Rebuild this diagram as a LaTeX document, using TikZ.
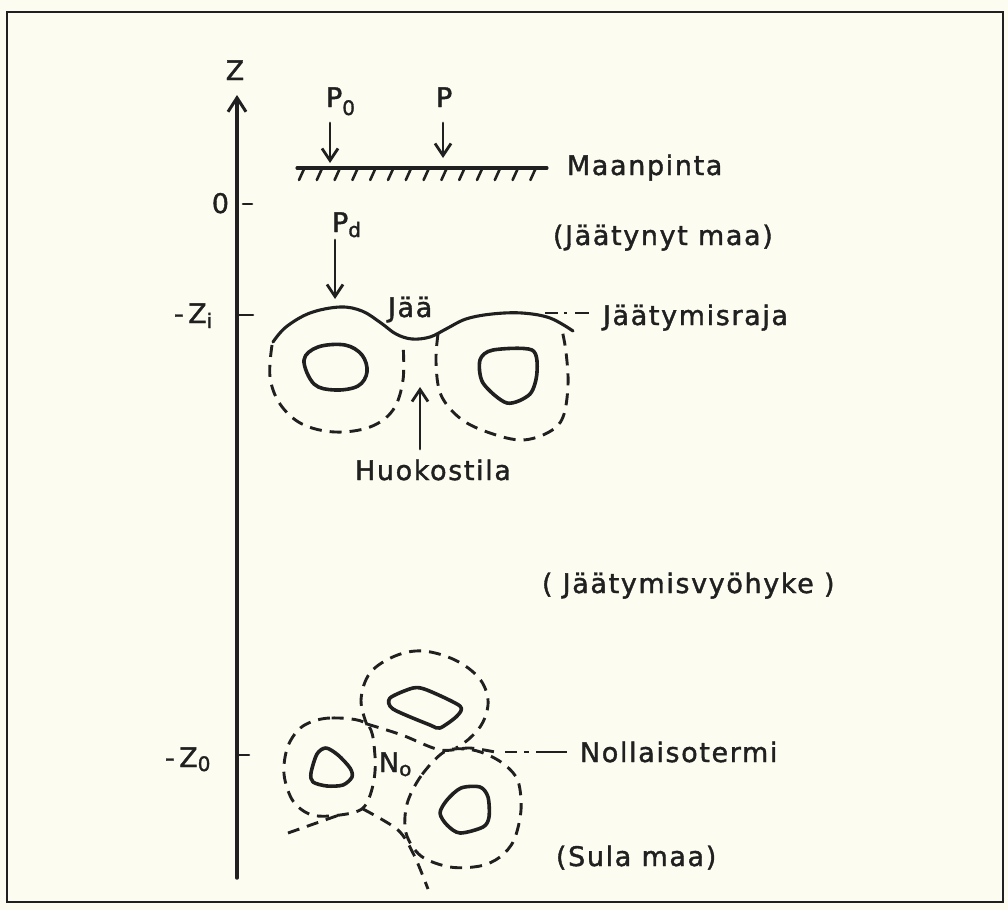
\documentclass[tikz,border=0pt]{standalone}
\usepackage{fontspec}
\setmainfont{DejaVu Sans}[LetterSpace=6, FakeBold=1.4]
\usetikzlibrary{arrows.meta}
\definecolor{paper}{RGB}{252,252,240}
\definecolor{ink}{RGB}{32,32,32}
\newcommand\lowsub[2][-7pt]{\raisebox{#1}{\fontsize{20}{20}\selectfont #2}}
\begin{document}
\begin{tikzpicture}[x=1pt,y=-1pt,
  every node/.style={inner sep=0pt, outer sep=0pt, text=ink, font=\fontsize{27}{30}\selectfont},
  lbl/.style={anchor=base west},
  inkline/.style={draw=ink, line width=3.1pt, line cap=round, line join=round},
  dashline/.style={inkline, line width=2.9pt, line cap=butt, dash pattern=on 12pt off 8pt},
  barb/.style={-{Straight Barb[length=12pt,width=16pt,line width=2.8pt]}},
]
% page and frame
\fill[paper] (0,0) rectangle (1008,910);
\useasboundingbox (0,0) rectangle (1008,910);
\draw[ink, line width=2.6pt] (7,12) rectangle (1003,902);

% depth axis
\coordinate (zbot) at (237,878);
\coordinate (ztop) at (237,95);
\draw[inkline, line width=3.4pt, -{Straight Barb[length=14pt,width=18pt,line width=3pt]}] (zbot) -- (ztop);
\node[anchor=base] (zlab) at (235,80) {Z};
\node[anchor=base east] (zero) at (229,213) {0};
\node[lbl] (zi) at (174,323) {-\,Z\lowsub[-5pt]{i}};
\node[lbl] (zo) at (165,767) {-\,Z\lowsub[-4pt]{0}};
\coordinate (t0a) at (243,204); \coordinate (t0b) at (252,204);
\coordinate (tia) at (239,315); \coordinate (tib) at (253,315);
\coordinate (toa) at (239,755); \coordinate (tob) at (249,755);
\draw[inkline, line width=2.6pt] (t0a) -- (t0b);
\draw[inkline, line width=2.6pt] (tia) -- (tib);
\draw[inkline, line width=2.6pt] (toa) -- (tob);

% ground surface with hatching
\coordinate (gl) at (297,168);
\coordinate (gr) at (547,168);
\draw[inkline] (gl) -- (gr);
\foreach \i in {0,...,13}
  \draw[inkline, line width=2.6pt] ({304+17.8*\i},169) -- ({299+17.8*\i},180);
\node[lbl] (maan) at (567,175) {Maanpinta};

% loads
\node[lbl] (p0) at (326,107) {P\lowsub[-8pt]{0}};
\node[lbl] (p) at (436,107) {P};
\node[lbl] (pd) at (332,232) {P\lowsub[-5pt]{d}};
\coordinate (p0a) at (330,123); \coordinate (p0b) at (330,163);
\coordinate (pa) at (443,123);  \coordinate (pb) at (443,158);
\coordinate (pda) at (335,240); \coordinate (pdb) at (335,299);
\draw[inkline, line width=2.8pt, barb] (p0a) -- (p0b);
\draw[inkline, line width=2.8pt, barb] (pa) -- (pb);
\draw[inkline, line width=2.8pt, barb] (pda) -- (pdb);

\node[lbl] (frozen) at (553,245) {(Jäätynyt maa)};

% freezing front with ice lens
\draw[inkline] plot[smooth, tension=0.6] coordinates {(273,342) (286,327) (310,313) (340,307) (362,311) (381,323) (396,334) (412,339) (430,337) (446,329) (466,319) (492,314) (522,313) (550,318) (573,331)};
\node[lbl] (ice) at (388,317) {Jää};
\coordinate (fra) at (545,313);
\coordinate (frb) at (598,313);
\draw[inkline, line width=2.6pt, line cap=butt, dash pattern=on 13pt off 6pt on 3pt off 8pt on 14pt] (fra) -- (frb);
\node[lbl] (front) at (603,325) {Jäätymisraja};

% soil grains below the front
\draw[inkline, line width=3.6pt] plot[smooth cycle, tension=0.6] coordinates {(304,360) (318,347) (345,345) (362,355) (367,372) (358,386) (335,390) (314,384)};
\draw[inkline, line width=3.6pt] plot[smooth cycle, tension=0.5] coordinates {(480,360) (493,350) (532,350) (537,372) (530,394) (507,403) (483,383)};
\draw[dashline] plot[smooth, tension=0.6] coordinates {(272,345) (270,377) (280,404) (302,424) (335,432) (370,427) (393,410) (403,380) (403,343)};
\draw[dashline] plot[smooth, tension=0.6] coordinates {(438,334) (436,362) (441,395) (461,419) (490,433) (522,440) (549,432) (563,417) (568,385) (566,352) (562,330)};

% pore space
\coordinate (poretip) at (420,387);
\node[lbl] (pore) at (355,480) {Huokostila};
\coordinate (porebase) at (420,449);
\draw[inkline, line width=2.8pt, barb] (porebase) -- (poretip);

\node[lbl] (zone) at (542,593) {( Jäätymisvyöhyke )};

% grains around the zero isotherm
\draw[inkline, line width=3.6pt] plot[smooth cycle, tension=0.45] coordinates {(390,698) (413,688) (427,690) (460,706) (457,716) (440,728) (430,725) (393,709)};
\draw[inkline, line width=3.6pt] plot[smooth cycle, tension=0.5] coordinates {(311,773) (317,754) (326,748) (338,755) (350,768) (352,777) (343,785) (327,786) (313,782)};
\draw[inkline, line width=3.6pt] plot[smooth cycle, tension=0.5] coordinates {(440,813) (447,800) (461,788) (480,787) (488,797) (489,817) (483,827) (460,833) (447,825)};

\draw[dashline] plot[smooth, tension=0.6] coordinates {(367,725) (361,700) (370,673) (395,656) (423,651) (455,660) (479,678) (488,700) (483,722) (470,738) (456,748)};
\draw[dashline] plot[smooth cycle, tension=0.55] coordinates {(367,724) (330,718) (303,726) (288,746) (284,774) (293,801) (312,815) (340,815) (363,808) (373,785) (375,756)};
\draw[dashline] plot[smooth cycle, tension=0.55] coordinates {(444,752) (421,776) (407,804) (406,833) (421,856) (450,867) (480,866) (500,857) (514,840) (521,810) (518,781) (505,765) (486,754) (466,749)};
\draw[dashline] plot[smooth, tension=0.5] coordinates {(367,724) (402,735) (440,750) (470,748) (500,753)};
\draw[dashline] (288,833) -- (342,814);
\draw[dashline] plot[smooth, tension=0.5] coordinates {(363,809) (398,830) (414,855) (428,889)};
\node[lbl] (nzero) at (379,772) {N\lowsub[-4pt]{o}};

\coordinate (isoa) at (505,752);
\coordinate (isob) at (568,752);
\draw[inkline, line width=2.6pt, line cap=butt, dash pattern=on 12pt off 7pt on 5pt off 7pt on 31pt] (isoa) -- (isob);
\node[lbl] (iso) at (580,762) {Nollaisotermi};

\node[lbl] (thawed) at (556,866) {(Sula maa)};
\end{tikzpicture}
\end{document}
